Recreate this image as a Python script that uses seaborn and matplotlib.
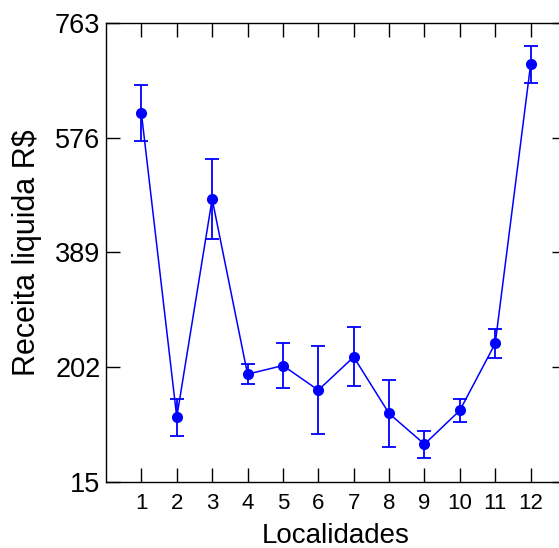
import numpy as np
import pandas as pd
import seaborn as sns
import matplotlib
matplotlib.use('Agg')
import matplotlib.pyplot as plt

# valores
localidades = [1, 2, 3, 4, 5, 6, 7, 8, 9, 10, 11, 12]
receita = [616, 121, 476, 191, 205, 165, 219, 127, 77, 132, 241, 695]
erro = [46, 30, 65, 16, 37, 72, 48, 54, 22, 19, 23, 30]
yticks = [15, 202, 389, 576, 763]

df = pd.DataFrame({'Localidades': localidades, 'Receita': receita, 'erro': erro})

sns.set_style('ticks')
plt.rcParams['font.family'] = ['Liberation Sans', 'DejaVu Sans']
plt.rcParams['text.color'] = 'black'
plt.rcParams['axes.labelcolor'] = 'black'

fig = plt.figure(figsize=(5.59, 5.48), dpi=100)
ax = fig.add_axes([106 / 559, 65.7 / 548, 460 / 559, 459.6 / 548])

ax.errorbar(df['Localidades'], df['Receita'], yerr=df['erro'], fmt='none',
            ecolor='#0000ff', elinewidth=1.3, capsize=5, capthick=1.3)
sns.lineplot(data=df, x='Localidades', y='Receita', color='#0000ff',
             marker='o', markersize=8, markeredgewidth=0, linewidth=1.1, ax=ax)

ax.set_xlim(0, 13)
ax.set_ylim(15, 763)
ax.set_xticks(localidades)
ax.set_yticks(yticks)
ax.tick_params(direction='in', length=10, width=1, top=True, right=True,
               colors='black', labelcolor='black')
ax.tick_params(axis='x', labelsize=16, pad=8)
ax.tick_params(axis='y', labelsize=19.5, pad=4)
for s in ax.spines.values():
    s.set_linewidth(1)
    s.set_color('black')

ax.set_xlabel('Localidades', fontsize=20, labelpad=6)
ax.set_ylabel('Receita liquida R$', fontsize=22, labelpad=9)

fig.savefig('out.png', dpi=100)
